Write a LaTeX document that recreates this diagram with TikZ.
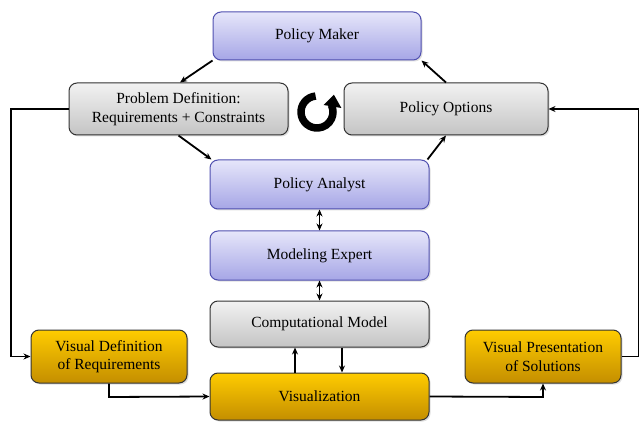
\documentclass[tikz,border=0pt]{standalone}
\usepackage{fontspec}
\setmainfont{Liberation Serif}
\usetikzlibrary{shadows,arrows.meta}
\definecolor{blueT}{HTML}{E6E6FA}
\definecolor{blueB}{HTML}{A6A6E6}
\definecolor{blueD}{HTML}{5050B0}
\definecolor{grayT}{HTML}{F2F2F2}
\definecolor{grayB}{HTML}{C4C4C4}
\definecolor{orT}{HTML}{FFCC00}
\definecolor{orB}{HTML}{C48E00}
\tikzset{
  box/.style={rounded corners=8pt, align=center, inner sep=0pt,
    font=\fontsize{15.5}{18.5}\selectfont,
    drop shadow={opacity=0.25, shadow xshift=1.5pt, shadow yshift=-1.5pt}},
  bluebox/.style={box, draw=blueD, line width=1pt, top color=blueT, bottom color=blueB},
  graybox/.style={box, draw=black!80, line width=1pt, top color=grayT, bottom color=grayB},
  orbox/.style={box, draw=black!80, line width=1pt, top color=orT, bottom color=orB},
  conn/.style={line width=1.8pt, -{Stealth[length=7pt,width=6pt]}},
  biconn/.style={line width=1.8pt, {Stealth[length=7pt,width=6pt]}-{Stealth[length=7pt,width=6pt]}}
}
\begin{document}
\begin{tikzpicture}[x=1pt,y=-1pt]
\useasboundingbox[fill=white] (0,0) rectangle (640,422);
\node[bluebox, minimum width=208pt, minimum height=48pt] (pm) at (317,36) {Policy Maker};
\node[graybox, minimum width=219pt, minimum height=52pt] (pd) at (178.5,109) {Problem Definition:\\Requirements + Constraints};
\node[graybox, minimum width=204pt, minimum height=52pt] (po) at (446,109) {Policy Options};
\node[bluebox, minimum width=219pt, minimum height=49pt] (pa) at (319.5,184.5) {Policy Analyst};
\node[bluebox, minimum width=219pt, minimum height=49pt] (me) at (319.5,255.5) {Modeling Expert};
\node[graybox, minimum width=219pt, minimum height=46pt] (cm) at (319.5,324) {Computational Model};
\node[orbox, minimum width=219pt, minimum height=47pt] (vz) at (319.5,396.5) {Visualization};
\node[orbox, minimum width=156pt, minimum height=53pt] (vd) at (109,356.5) {Visual Definition\\of Requirements};
\node[orbox, minimum width=156pt, minimum height=53pt] (vp) at (543,356.5) {Visual Presentation\\of Solutions};
% cycle symbol
\begin{scope}[shift={(317,112)}, x=1pt, y=1pt]
  \draw[line width=7.5pt] (95:16) arc[start angle=95, end angle=385, radius=16];
  \fill (6.6,7.0) -- (16.9,17.3) -- (24.4,4.0) -- cycle;
\end{scope}
% cycle arrows
\draw[conn] (pm.south west) -- ([xshift=1.5pt]pd.north);
\draw[conn] (pd.south) -- ([xshift=2pt]pa.north west);
\draw[conn] ([xshift=-2pt]pa.north east) -- (po.south);
\draw[conn] (po.north) -- (pm.south east);
% vertical chain
\draw[biconn] (pa) -- (me);
\draw[biconn] (me) -- (cm);
\draw[conn] ([xshift=-24.5pt]vz.north) -- ([xshift=-24.5pt]cm.south);
\draw[conn] ([xshift=22.5pt]cm.south) -- ([xshift=22.5pt]vz.north);
% feedback loops
\coordinate (lt) at (11,109);
\coordinate (lb) at (11,356.5);
\draw[conn] (pd.west) -- (lt) -- (lb) -- (vd.west);
\coordinate (vdb) at (109,397);
\draw[conn] (vd.south) -- (vdb) -- (vz.west);
\coordinate (vpb) at (543,397);
\draw[conn] (vz.east) -- (vpb) -- (vp.south);
\coordinate (rb) at (638.5,356.5);
\coordinate (rt) at (638.5,109);
\draw[conn] (vp.east) -- (rb) -- (rt) -- (po.east);
\end{tikzpicture}
\end{document}
